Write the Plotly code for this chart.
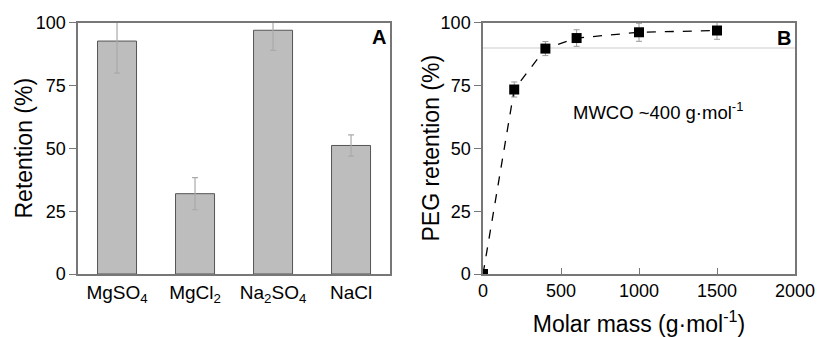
import plotly.graph_objects as go

# Panel A data
salts = ["MgSO<sub>4</sub>", "MgCl<sub>2</sub>", "Na<sub>2</sub>SO<sub>4</sub>", "NaCl"]
salt_retention = [92.8, 32.0, 97.1, 51.2]
salt_error = [12.8, 6.4, 8.0, 4.2]

# Panel B data
molar_mass = [0, 200, 400, 600, 1000, 1500]
peg_retention = [0, 73.5, 89.8, 94.0, 96.3, 97.0]
peg_error = [0, 3.0, 2.8, 3.3, 3.6, 3.5]
mwco_line = 90

FONT = "Liberation Sans, Arial, sans-serif"
AX = "#777777"

fig = go.Figure()

fig.add_trace(go.Bar(
    x=salts, y=salt_retention, width=0.5,
    marker=dict(color="#bdbdbd", line=dict(color="#555555", width=1)),
    error_y=dict(type="data", array=salt_error, color="#aaaaaa", thickness=1.2, width=3),
    xaxis="x", yaxis="y", showlegend=False,
))

fig.add_trace(go.Scatter(
    x=[0, 2000], y=[mwco_line, mwco_line], mode="lines",
    line=dict(color="#dddddd", width=1.5),
    xaxis="x2", yaxis="y2", showlegend=False, hoverinfo="skip",
))

fig.add_trace(go.Scatter(
    x=molar_mass, y=peg_retention, mode="lines+markers",
    line=dict(color="black", width=1.3, dash="dash"),
    marker=dict(symbol="square", size=10, color="black"),
    error_y=dict(type="data", array=peg_error, color="#999999", thickness=1, width=3),
    xaxis="x2", yaxis="y2", showlegend=False,
))

yt = dict(range=[0, 100], tickvals=[0, 25, 50, 75, 100], ticks="outside", ticklen=7,
          tickcolor=AX, showline=True, linecolor=AX, linewidth=1.5, mirror=True,
          showgrid=False, zeroline=False, tickfont=dict(size=18, color="black", family=FONT),
          domain=[0.1869, 0.9318], automargin=False)

fig.update_layout(
    width=817, height=337,
    margin=dict(l=0, r=0, t=0, b=0, autoexpand=False),
    paper_bgcolor="white", plot_bgcolor="white",
    font=dict(family=FONT, color="black"),
    xaxis=dict(domain=[0.0955, 0.4774], range=[-0.5, 3.5], showline=True, linecolor=AX,
               linewidth=1.5, mirror=True, ticks="", showgrid=False, automargin=False,
               tickfont=dict(size=19, color="black", family=FONT)),
    yaxis=dict(**yt),
    xaxis2=dict(domain=[0.5912, 0.9731], range=[0, 2000], tickvals=[0, 500, 1000, 1500, 2000],
                ticks="inside", ticklen=6, tickcolor=AX, showline=True, linecolor=AX,
                linewidth=1.5, mirror=True, showgrid=False, zeroline=False, anchor="y2",
                automargin=False,
                tickfont=dict(size=18, color="black", family=FONT),
                title=dict(text="Molar mass (g·mol<sup>-1</sup>)", font=dict(size=23), standoff=20)),
    yaxis2=dict(**yt, anchor="x2"),
    annotations=[
        dict(text="Retention (%)", x=24 / 817, y=0.5593, xref="paper", yref="paper",
             textangle=-90, showarrow=False, xanchor="center", yanchor="middle",
             font=dict(size=23, color="black")),
        dict(text="PEG retention (%)", x=431 / 817, y=0.5593, xref="paper", yref="paper",
             textangle=-90, showarrow=False, xanchor="center", yanchor="middle",
             font=dict(size=23, color="black")),
        dict(text="<b>A</b>", x=0.992, y=0.995, xref="x domain", yref="y domain",
             showarrow=False, xanchor="right", yanchor="top", font=dict(size=20, color="black")),
        dict(text="<b>B</b>", x=0.994, y=0.99, xref="x2 domain", yref="y2 domain",
             showarrow=False, xanchor="right", yanchor="top", font=dict(size=20, color="black")),
        dict(text="MWCO ~400 g·mol<sup>-1</sup>", x=1120, y=65, xref="x2", yref="y2",
             showarrow=False, font=dict(size=18.5, color="black")),
    ],
)

fig.write_html("out.html", config={"displayModeBar": False},
               post_script="document.body.style.margin='0';")
